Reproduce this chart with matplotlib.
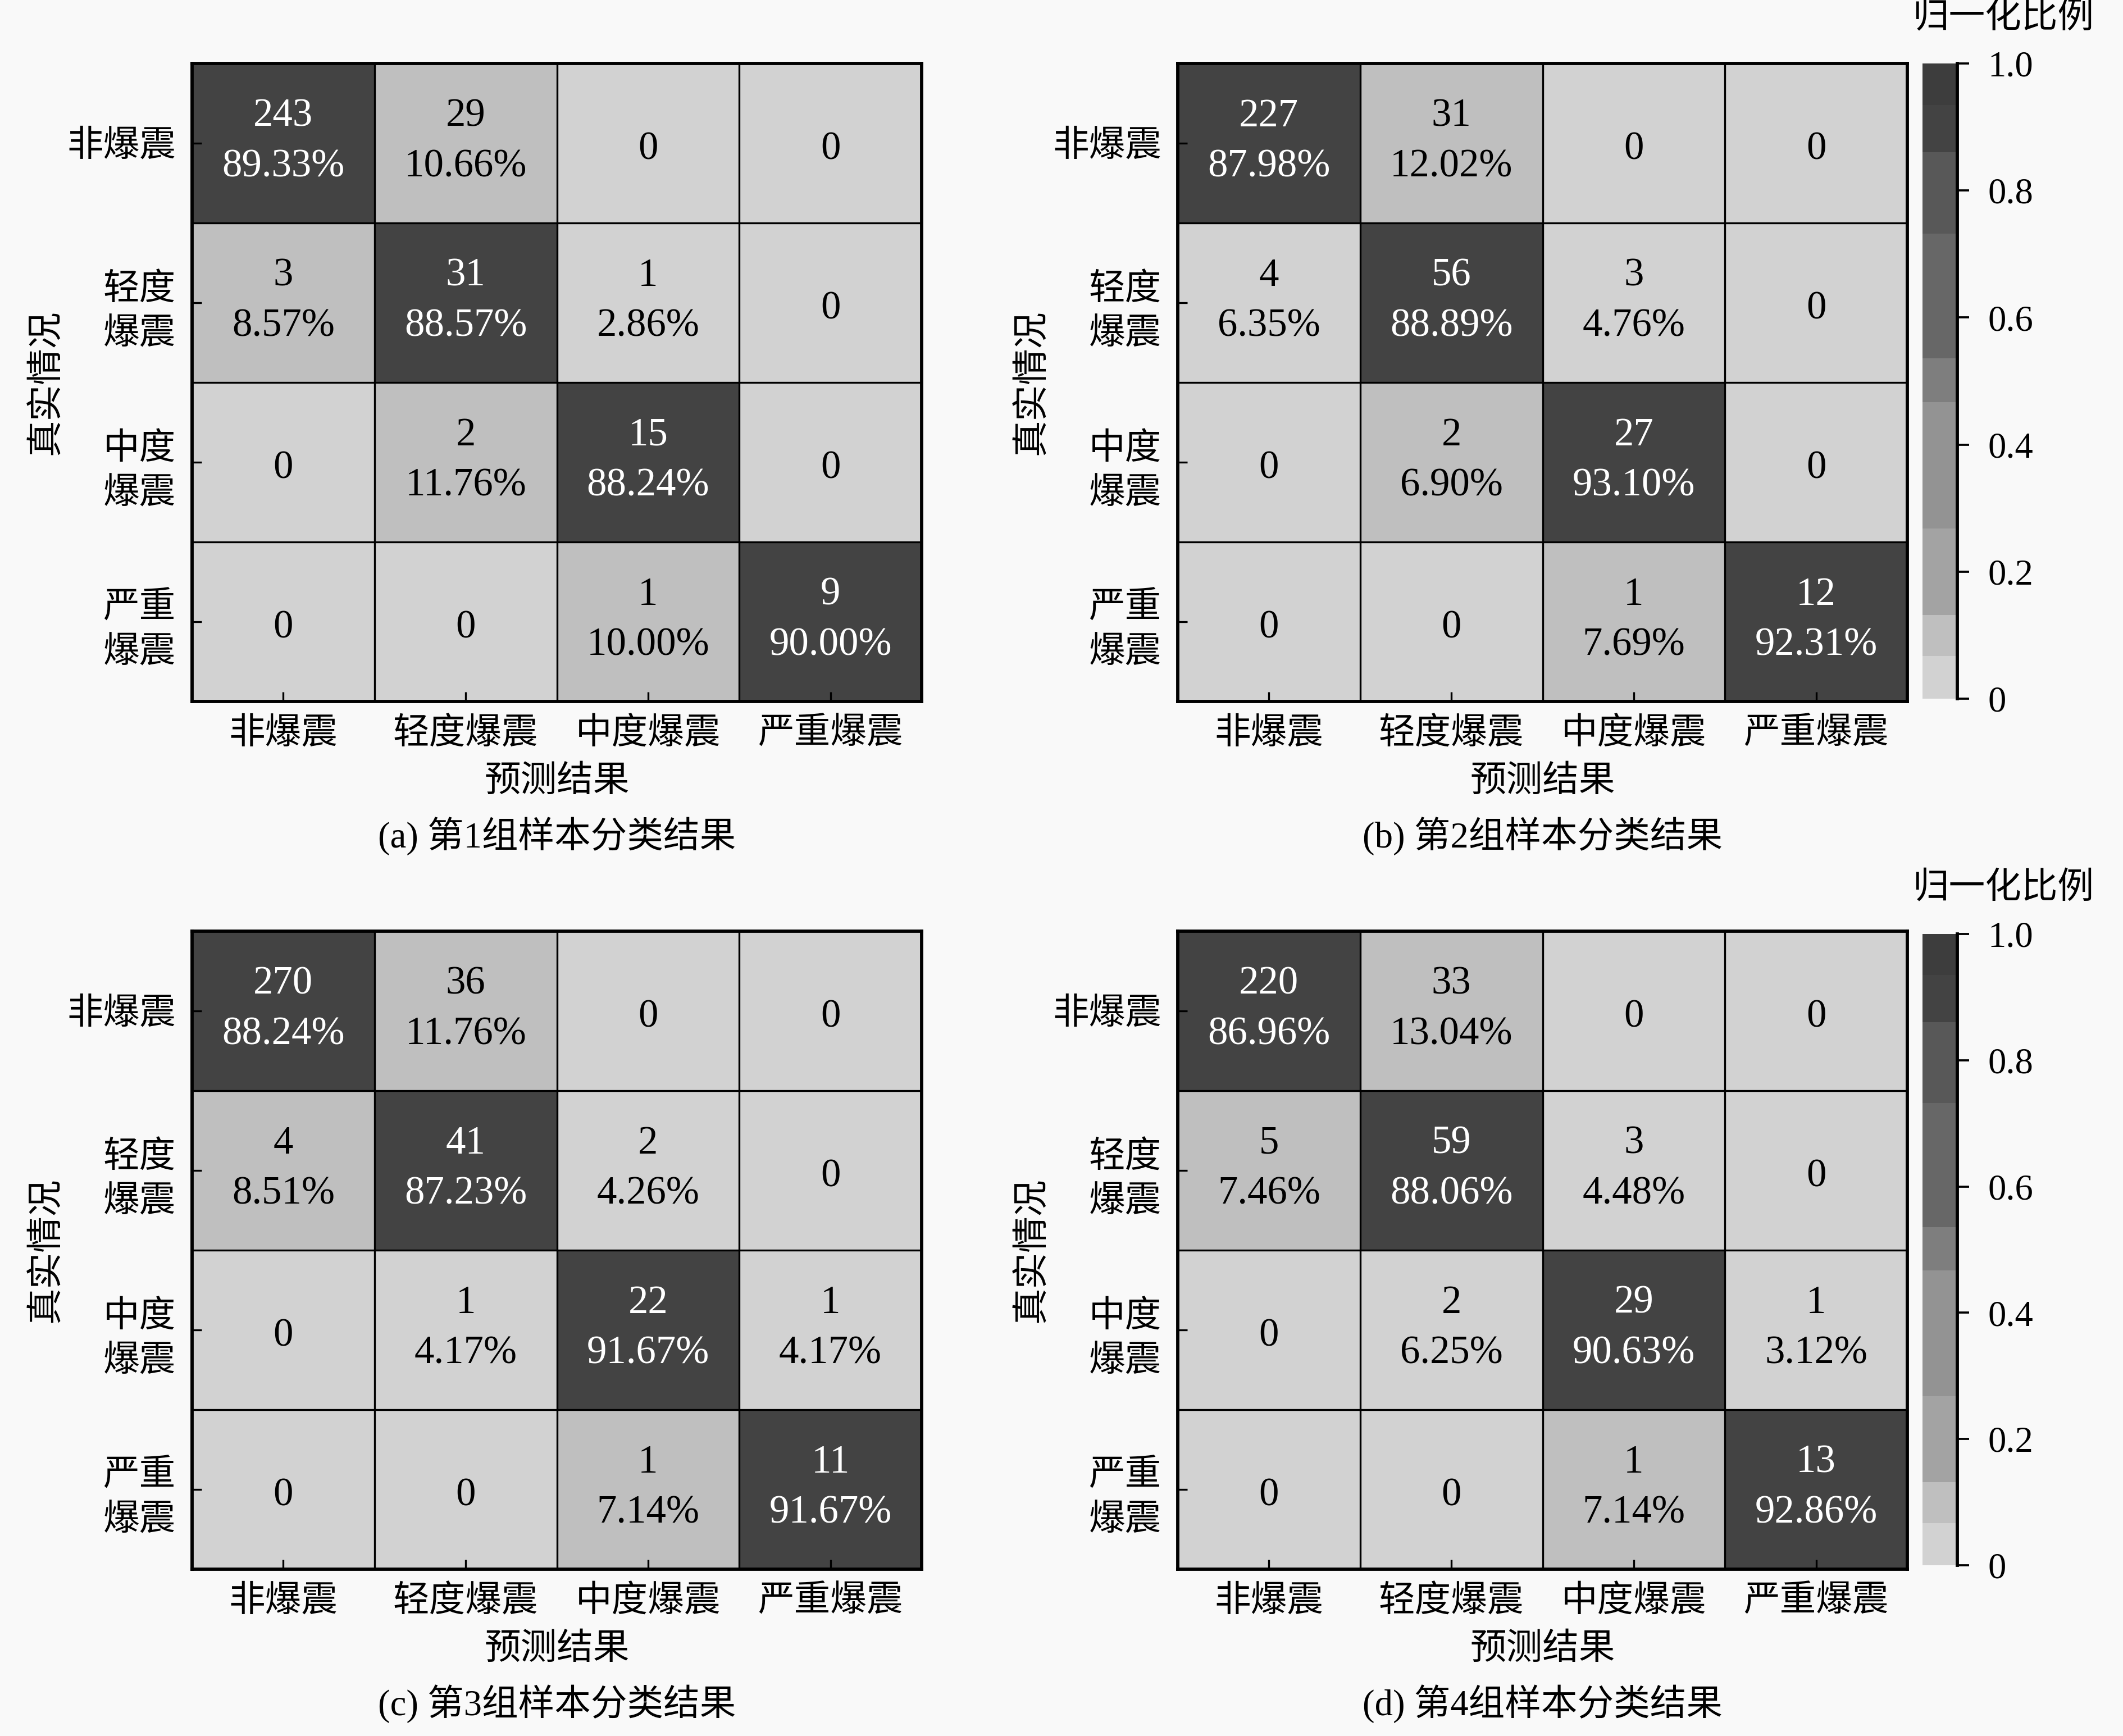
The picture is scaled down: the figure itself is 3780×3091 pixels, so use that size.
import numpy as np
import matplotlib
matplotlib.use('Agg')
import matplotlib.pyplot as plt
from matplotlib.colors import ListedColormap, BoundaryNorm
from matplotlib.cm import ScalarMappable

plt.rcParams['font.family'] = ['Liberation Serif', 'Noto Sans CJK SC']

# 类别与各组混淆矩阵(数量与百分比, 按图中读取)
classes = ['非爆震', '轻度爆震', '中度爆震', '严重爆震']
row_labels = ['非爆震', '轻度\n爆震', '中度\n爆震', '严重\n爆震']
captions = ['(a) 第1组样本分类结果', '(b) 第2组样本分类结果',
            '(c) 第3组样本分类结果', '(d) 第4组样本分类结果']

counts_1 = [[243, 29, 0, 0], [3, 31, 1, 0], [0, 2, 15, 0], [0, 0, 1, 9]]
pct_1 = [[89.33, 10.66, 0, 0], [8.57, 88.57, 2.86, 0],
         [0, 11.76, 88.24, 0], [0, 0, 10.00, 90.00]]
counts_2 = [[227, 31, 0, 0], [4, 56, 3, 0], [0, 2, 27, 0], [0, 0, 1, 12]]
pct_2 = [[87.98, 12.02, 0, 0], [6.35, 88.89, 4.76, 0],
         [0, 6.90, 93.10, 0], [0, 0, 7.69, 92.31]]
counts_3 = [[270, 36, 0, 0], [4, 41, 2, 0], [0, 1, 22, 1], [0, 0, 1, 11]]
pct_3 = [[88.24, 11.76, 0, 0], [8.51, 87.23, 4.26, 0],
         [0, 4.17, 91.67, 4.17], [0, 0, 7.14, 91.67]]
counts_4 = [[220, 33, 0, 0], [5, 59, 3, 0], [0, 2, 29, 1], [0, 0, 1, 13]]
pct_4 = [[86.96, 13.04, 0, 0], [7.46, 88.06, 4.48, 0],
         [0, 6.25, 90.63, 3.12], [0, 0, 7.14, 92.86]]

groups = [(counts_1, pct_1), (counts_2, pct_2), (counts_3, pct_3), (counts_4, pct_4)]

# 分段灰度色标
bounds = [0, 0.067, 0.132, 0.268, 0.467, 0.536, 0.732, 0.86, 0.935, 1.0]
greys = ['#d2d2d2', '#bfbfbf', '#a3a3a3', '#939393', '#7e7e7e',
         '#676767', '#585858', '#434343', '#3d3d3d']
cmap = ListedColormap(greys)
norm = BoundaryNorm(bounds, cmap.N)

W, H = 3780, 3091
fig = plt.figure(figsize=(W / 300, H / 300), dpi=300, facecolor='#f9f9f9')

# 各子图位置 (像素)
boxes = [(342, 113), (2097, 113), (342, 1658), (2097, 1658)]
ax_w, ax_h = 1299, 1136
cbar_boxes = [None, (3423, 113, 1244), None, (3423, 1663, 2787)]

for k, (counts, pct) in enumerate(groups):
    x0, y0 = boxes[k]
    ax = fig.add_axes([x0 / W, 1 - (y0 + ax_h) / H, ax_w / W, ax_h / H])
    frac = np.array(pct) / 100.0
    ax.imshow(frac, cmap=cmap, norm=norm, aspect='auto')
    for i in range(4):
        for j in range(4):
            c = counts[i][j]
            col = 'white' if i == j else 'black'
            if c == 0:
                ax.text(j, i + 0.04, '0', ha='center', va='center', fontsize=17, color=col)
            else:
                txt = '%d\n%.2f%%' % (c, pct[i][j])
                ax.text(j, i - 0.01, txt, ha='center', va='center', fontsize=17,
                        color=col, linespacing=1.5)
    for p in np.arange(0.5, 3.5, 1.0):
        ax.axhline(p, color='black', lw=0.8)
        ax.axvline(p, color='black', lw=0.8)
    ax.set_xticks(range(4))
    ax.set_xticklabels(classes, fontsize=15.5)
    ax.set_yticks(range(4))
    ax.set_yticklabels(row_labels, fontsize=15.5, linespacing=1.45)
    ax.tick_params(direction='in', length=4, width=0.8, pad=7)
    for s in ax.spines.values():
        s.set_linewidth(1.4)

    cx = (x0 + ax_w / 2) / W
    fig.text(cx, 1 - (y0 + ax_h + 144) / H, '预测结果', ha='center', va='center', fontsize=15.5)
    fig.text(cx, 1 - (y0 + ax_h + 240) / H, captions[k], ha='center', va='center', fontsize=15.5)
    fig.text((x0 - 258) / W, 1 - (y0 + ax_h / 2) / H, '真实情况', ha='center', va='center',
             rotation=90, fontsize=15.5)

    if cbar_boxes[k] is not None:
        cl, ct, cb_ = cbar_boxes[k]
        cax = fig.add_axes([cl / W, 1 - cb_ / H, 62 / W, (cb_ - ct) / H])
        sm = ScalarMappable(norm=norm, cmap=cmap)
        cb = fig.colorbar(sm, cax=cax, ticks=[0, 0.2, 0.4, 0.6, 0.8, 1.0],
                          spacing='proportional')
        cb.minorticks_off()
        cb.ax.set_yticklabels(['0', '0.2', '0.4', '0.6', '0.8', '1.0'], fontsize=15.5)
        cb.outline.set_visible(False)
        cax.plot([1, 1], [0, 1], transform=cax.transAxes, color='black', lw=1.4, clip_on=False)
        cax.tick_params(direction='out', length=5, width=0.9, pad=8)
        fig.text(3567 / W, 1 - (ct - 80) / H, '归一化比例', ha='center', va='center', fontsize=15.5)

fig.savefig('out.png', dpi=300, facecolor=fig.get_facecolor())
